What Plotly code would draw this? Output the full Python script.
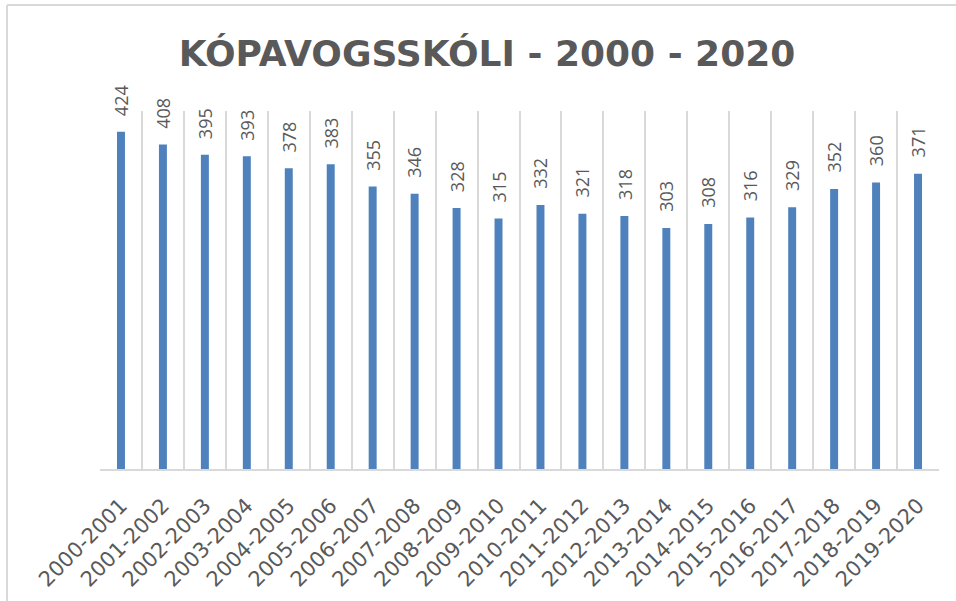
import plotly.graph_objects as go

categories = ["2000-2001", "2001-2002", "2002-2003", "2003-2004", "2004-2005",
              "2005-2006", "2006-2007", "2007-2008", "2008-2009", "2009-2010",
              "2010-2011", "2011-2012", "2012-2013", "2013-2014", "2014-2015",
              "2015-2016", "2016-2017", "2017-2018", "2018-2019", "2019-2020"]
values = [424, 408, 395, 393, 378, 383, 355, 346, 328, 315,
          332, 321, 318, 303, 308, 316, 329, 352, 360, 371]
title_text = "KÓPAVOGSSKÓLI - 2000 - 2020"

W, H = 956, 601
L, R, T, B = 100, 17, 111, 132
pw, ph = W - L - R, H - T - B

fig = go.Figure()
fig.add_trace(go.Bar(
    x=categories, y=values, width=0.19,
    marker=dict(color="#4F81BD", line=dict(width=0)),
    hoverinfo="x+y",
))

for c, v in zip(categories, values):
    fig.add_annotation(x=c, y=v, text=str(v), textangle=-90, showarrow=False,
                       xanchor="center", yanchor="bottom", yshift=14,
                       font=dict(family="Open Sans", size=18, color="#595959"))

# outer chart border (left and top visible)
bx = (7 - L) / pw
by_top = (H - B - 5) / ph
by_bot = (H - B - H) / ph
bx_r = (W - L) / pw
fig.add_shape(type="line", xref="paper", yref="paper", x0=bx, x1=bx, y0=by_bot, y1=by_top,
              line=dict(color="#D9D9D9", width=2))
fig.add_shape(type="line", xref="paper", yref="paper", x0=bx, x1=bx_r, y0=by_top, y1=by_top,
              line=dict(color="#D9D9D9", width=2))

fig.update_layout(
    width=W, height=H,
    margin=dict(l=L, r=R, t=T, b=B, autoexpand=False),
    paper_bgcolor="white", plot_bgcolor="white",
    showlegend=False,
    title=dict(text=title_text, x=487 / W, xanchor="center", xref="container",
               y=1 - 53 / H, yanchor="middle",
               font=dict(family="DejaVu Sans", size=36, color="#595959", weight="bold")),
    xaxis=dict(type="category", range=[-0.5, 19.5], tickson="boundaries",
               automargin=False,
               showgrid=True, gridcolor="#D9D9D9", gridwidth=2,
               showline=True, linecolor="#D9D9D9", linewidth=2,
               ticks="", tickangle=-45, ticklabelstandoff=14,
               tickfont=dict(family="DejaVu Sans", size=21, color="#595959")),
    yaxis=dict(range=[0, 450], showgrid=False, showticklabels=False, automargin=False,
               zeroline=False, showline=False, ticks=""),
)

fig.write_html("out.html", config={"displayModeBar": False},
               post_script="document.body.style.margin='0';")
